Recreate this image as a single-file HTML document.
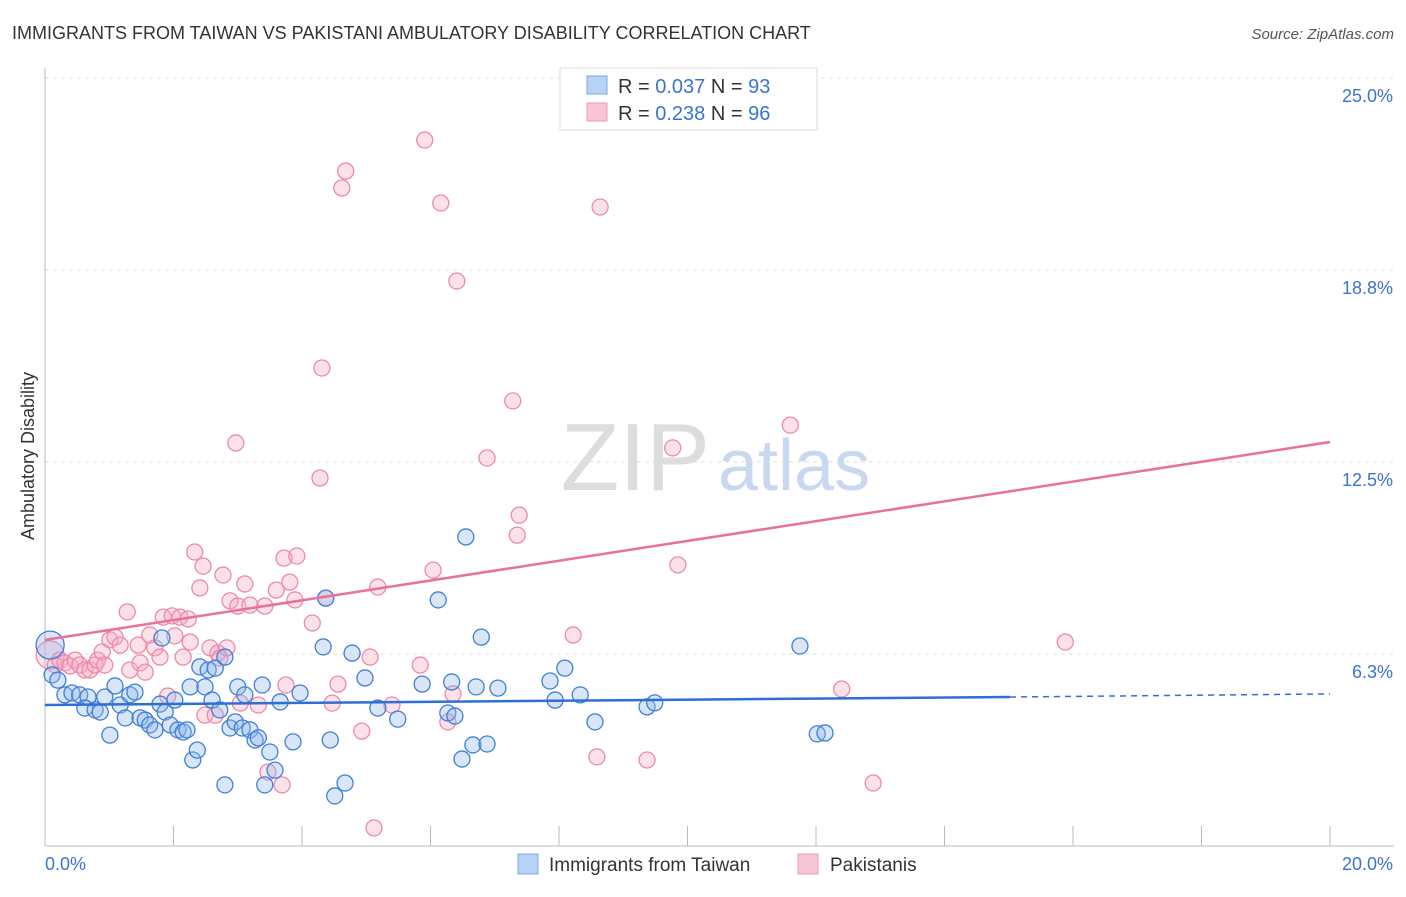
<!DOCTYPE html>
<html><head><meta charset="utf-8"><style>
body{margin:0;background:#fff;font-family:"Liberation Sans",sans-serif;}
svg text{font-family:"Liberation Sans",sans-serif;}
</style></head><body>
<svg id="chart" width="1406" height="892" xmlns="http://www.w3.org/2000/svg">
<text x="12" y="39" font-size="18" fill="#333">IMMIGRANTS FROM TAIWAN VS PAKISTANI AMBULATORY DISABILITY CORRELATION CHART</text>
<text x="1394" y="39" font-size="15" fill="#555" font-style="italic" text-anchor="end">Source: ZipAtlas.com</text>
<text x="710" y="490" font-size="96" fill="#ddd" text-anchor="end" font-family="Liberation Serif">ZIP</text>
<text x="718" y="490" font-size="72" fill="#c8d8f0">atlas</text>
<g id="grid"></g><g id="axes"></g><g id="pts"></g><g id="lines"></g>
<text transform="translate(34,456) rotate(-90)" font-size="18" fill="#333" text-anchor="middle">Ambulatory Disability</text>
<g>
<rect x="560" y="68" width="257" height="62" fill="#fff" stroke="#ddd"/>
<rect x="587" y="76" width="20" height="18" fill="#b9d3f5" stroke="#7aa7e6"/>
<rect x="587" y="103" width="20" height="18" fill="#f8c5d5" stroke="#ee9ab4"/>
<text x="618" y="93" font-size="20" fill="#333">R = <tspan fill="#3b73d4">0.037</tspan>   N = <tspan fill="#3b73d4">93</tspan></text>
<text x="618" y="120" font-size="20" fill="#333">R = <tspan fill="#3b73d4">0.238</tspan>   N = <tspan fill="#3b73d4">96</tspan></text>
</g>
<g>
<rect x="518" y="854" width="20" height="20" fill="#b9d3f5" stroke="#7aa7e6"/>
<text x="549" y="871" font-size="19" fill="#333">Immigrants from Taiwan</text>
<rect x="798" y="854" width="20" height="20" fill="#f8c5d5" stroke="#ee9ab4"/>
<text x="830" y="871" font-size="19" fill="#333">Pakistanis</text>
</g>
</svg>
<script>
const yTicks=[6.25,12.5,18.75,25];
const yTickLabels=["6.3%","12.5%","18.8%","25.0%"];
const xTicks=[0,2,4,6,8,10,12,14,16,18,20];
const blueX=[0.08,0.11,0.20,0.31,0.42,0.54,0.67,0.62,0.78,0.86,0.93,1.01,1.09,1.17,1.25,1.32,1.40,1.48,1.56,1.63,1.71,1.79,1.82,1.87,1.95,2.02,2.07,2.15,2.21,2.26,2.30,2.37,2.41,2.49,2.54,2.60,2.65,2.72,2.80,2.80,2.88,2.96,3.00,3.07,3.11,3.19,3.27,3.32,3.38,3.42,3.50,3.58,3.66,3.86,3.97,4.33,4.37,4.44,4.51,4.67,4.78,4.98,5.18,5.49,5.87,6.12,6.27,6.33,6.38,6.49,6.55,6.66,6.71,6.79,6.88,7.05,7.86,7.94,8.09,8.33,8.56,9.37,9.49,11.75,12.02,12.14];
const blueY=[6.54,5.57,5.40,4.92,4.98,4.92,4.85,4.49,4.43,4.36,4.85,3.61,5.21,4.59,4.17,4.92,5.01,4.17,4.10,3.94,3.78,4.62,6.77,4.36,3.94,4.75,3.78,3.71,3.78,5.18,2.80,3.12,5.83,5.18,5.73,4.75,5.79,4.43,6.15,1.99,3.84,4.04,5.18,3.84,4.92,3.78,3.45,3.52,5.24,1.99,3.06,2.47,4.69,3.39,4.98,6.48,8.07,3.45,1.63,2.05,6.28,5.47,4.49,4.13,5.27,8.01,4.33,5.34,4.23,2.83,10.06,3.29,5.18,6.80,3.32,5.14,5.37,4.75,5.79,4.92,4.04,4.53,4.66,6.51,3.65,3.68];
const pinkX=[0.08,0.16,0.23,0.31,0.39,0.47,0.54,0.62,0.70,0.78,0.82,0.89,0.93,1.01,1.09,1.17,1.28,1.32,1.45,1.48,1.56,1.63,1.71,1.79,1.84,1.91,1.98,2.02,2.10,2.15,2.23,2.26,2.33,2.41,2.46,2.49,2.57,2.65,2.69,2.72,2.77,2.83,2.88,2.97,3.00,3.04,3.11,3.19,3.32,3.42,3.47,3.60,3.69,3.72,3.75,3.81,3.89,3.92,4.16,4.28,4.31,4.37,4.47,4.56,4.62,4.68,4.93,5.06,5.12,5.18,5.40,5.84,5.91,6.16,6.27,6.35,6.41,6.04,6.88,7.28,7.35,7.38,8.22,8.59,8.64,9.37,9.77,9.85,11.60,12.40,12.89,15.88];
const pinkY=[6.22,5.89,6.05,5.96,5.86,6.05,5.89,5.73,5.73,5.89,6.05,6.32,5.89,6.71,6.80,6.54,7.62,5.73,6.54,5.96,5.66,6.87,6.45,6.15,7.45,4.88,7.49,6.84,7.45,6.15,7.39,6.64,9.57,8.40,9.11,4.26,6.45,4.26,6.28,6.12,8.82,6.45,7.98,13.12,7.81,4.65,8.53,7.84,4.59,7.81,2.41,8.33,1.99,9.37,5.24,8.59,8.01,9.44,7.26,11.98,15.56,8.07,4.65,5.27,21.42,21.97,3.74,6.15,0.59,8.43,4.59,5.89,22.98,20.93,4.04,4.95,18.39,8.98,12.63,14.49,10.12,10.77,6.87,2.90,20.80,2.80,12.96,9.15,13.70,5.11,2.05,6.64];
const blueTrend=[[0,4.59],[15.02,4.85],[20,4.95]];
const pinkTrend=[[0,6.71],[20,13.15]];
const X=v=>45+v*64.25, Y=v=>846-v*30.72;
const NS="http://www.w3.org/2000/svg";
function mk(tag,attrs,parent){const e=document.createElementNS(NS,tag);for(const k in attrs)e.setAttribute(k,attrs[k]);document.getElementById(parent).appendChild(e);return e;}
yTicks.forEach((t,i)=>{
 const g=mk('line',{x1:45,x2:1394,y1:Y(t),y2:Y(t),stroke:'#ddd','stroke-dasharray':'4,4'},'grid');
 
 
 const l=mk('text',{x:1393,y:Y(t)+24,'font-size':18,fill:'#3b73d4','text-anchor':'end'},'axes');
 l.textContent=yTickLabels[i];
 
 
});
const ax=mk('line',{x1:45,x2:1394,y1:846,y2:846,stroke:'#bbb'},'axes');


const ay=mk('line',{x1:45,x2:45,y1:68,y2:846,stroke:'#bbb'},'axes');


xTicks.forEach(t=>{
 const tk=mk('line',{x1:X(t),x2:X(t),y1:826,y2:846,stroke:'#bbb'},'axes');
 
 
});
const x0=mk('text',{x:45,y:870,'font-size':18,fill:'#3b73d4'},'axes');x0.textContent='0.0%';


const x1=mk('text',{x:1393,y:870,'font-size':18,fill:'#3b73d4','text-anchor':'end'},'axes');x1.textContent='20.0%';


function pts(xs,ys,fill,stroke,name){xs.forEach((x,i)=>{
 const c=mk('circle',{cx:X(x),cy:Y(ys[i]),r:i===0?14:8,fill:fill,'fill-opacity':0.35,stroke:stroke,'stroke-width':1.3},'pts');
 
 
});}
pts(pinkX,pinkY,'#f5a8c0','#ec8aab','point-pakistani');
pts(blueX,blueY,'#8fb8ec','#3f7fd8','point-taiwan');
const bl=mk('line',{x1:X(blueTrend[0][0]),y1:Y(blueTrend[0][1]),x2:X(blueTrend[1][0]),y2:Y(blueTrend[1][1]),stroke:'#2e6fd6','stroke-width':2.5},'lines');


const bd=mk('line',{x1:X(blueTrend[1][0]),y1:Y(blueTrend[1][1]),x2:X(blueTrend[2][0]),y2:Y(blueTrend[2][1]),stroke:'#2e6fd6','stroke-width':1.5,'stroke-dasharray':'6,5'},'lines');


const pl=mk('line',{x1:X(pinkTrend[0][0]),y1:Y(pinkTrend[0][1]),x2:X(pinkTrend[1][0]),y2:Y(pinkTrend[1][1]),stroke:'#e8709a','stroke-width':2.5},'lines');


</script>
</body></html>
